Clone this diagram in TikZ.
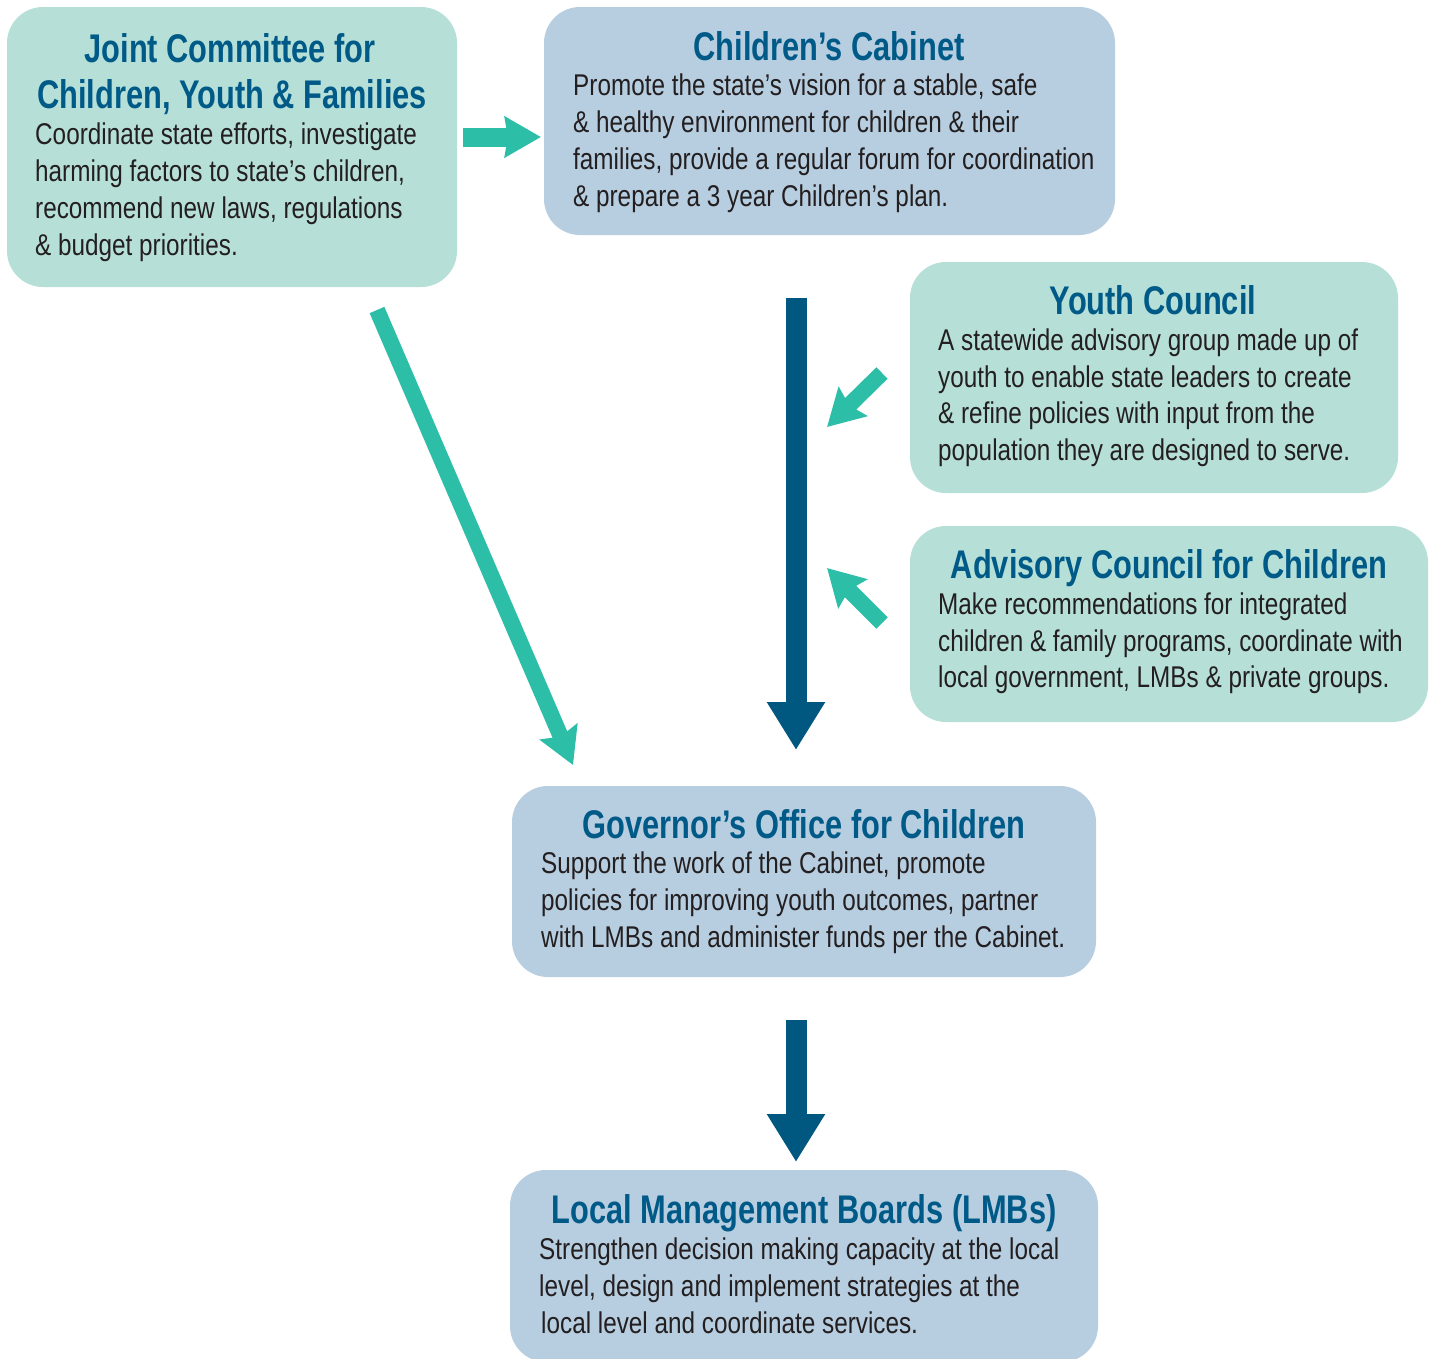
\documentclass[tikz,border=0pt]{standalone}
\usepackage{fontspec}
\setmainfont{Liberation Sans}[FakeStretch=0.81]
\newfontfamily\ttlfont{Liberation Sans}[FakeStretch=0.77]
\usetikzlibrary{arrows.meta}
\definecolor{tealbox}{RGB}{182,224,215}
\definecolor{bluebox}{RGB}{183,205,224}
\definecolor{titlecol}{RGB}{0,90,135}
\definecolor{tealarrow}{RGB}{45,190,168}
\definecolor{darkarrow}{RGB}{0,88,128}
\definecolor{txtcol}{RGB}{35,31,32}
\tikzset{
  boxbase/.style={rounded corners=36pt, inner sep=0pt, draw=none},
  tbox/.style={boxbase, fill=tealbox},
  bbox/.style={boxbase, fill=bluebox},
  ttl/.style={anchor=base, inner sep=0pt, text=titlecol, font=\ttlfont\fontsize{40}{46}\selectfont\bfseries},
  bodytxt/.style={anchor=base west, inner sep=0pt, text=txtcol, font=\fontsize{30}{36}\selectfont},
  tealarr/.style={draw=tealarrow, line width=16pt, -{Stealth[length=36pt, width=40pt, inset=5pt]}},
  tealarrh/.style={draw=tealarrow, line width=19pt, -{Stealth[length=36pt, width=40pt, inset=3pt]}},
  darkarr/.style={draw=darkarrow, line width=21pt, -{Triangle[length=48pt, width=55pt]}},
}
\begin{document}
\begin{tikzpicture}[x=1pt,y=-1pt]
\useasboundingbox (0,0) rectangle (1429,1358);
% boxes
\node[tbox, minimum width=450pt, minimum height=280pt] (jc) at (232,147) {};
\node[bbox, minimum width=571pt, minimum height=228pt] (cc) at (829.5,121) {};
\node[tbox, minimum width=488pt, minimum height=231pt] (yc) at (1154,377.5) {};
\node[tbox, minimum width=518pt, minimum height=196pt] (ac) at (1169,624) {};
\node[bbox, minimum width=584pt, minimum height=191pt] (go) at (804,881.5) {};
\node[bbox, minimum width=588pt, minimum height=192pt] (lmb) at (804,1266) {};
% Joint Committee
\node[ttl] (jct1) at (230,62) {Joint Committee for};
\node[ttl] (jct2) at (232,108) {Children, Youth \& Families};
\node[bodytxt] (jcb1) at (35,144) {Coordinate state efforts, investigate};
\node[bodytxt] (jcb2) at (35,181) {harming factors to state’s children,};
\node[bodytxt] (jcb3) at (35,218) {recommend new laws, regulations};
\node[bodytxt] (jcb4) at (35,255) {\& budget priorities.};
% Children's Cabinet
\node[ttl] (cct1) at (829,60) {Children’s Cabinet};
\node[bodytxt] (ccb1) at (573,95) {Promote the state’s vision for a stable, safe};
\node[bodytxt] (ccb2) at (573,132) {\& healthy environment for children \& their};
\node[bodytxt] (ccb3) at (573,169) {families, provide a regular forum for coordination};
\node[bodytxt] (ccb4) at (573,206) {\& prepare a 3 year Children’s plan.};
% Youth Council
\node[ttl] (yct1) at (1153,314) {Youth Council};
\node[bodytxt] (ycb1) at (938,350) {A statewide advisory group made up of};
\node[bodytxt] (ycb2) at (938,387) {youth to enable state leaders to create};
\node[bodytxt] (ycb3) at (938,423) {\& refine policies with input from the};
\node[bodytxt] (ycb4) at (938,460) {population they are designed to serve.};
% Advisory Council
\node[ttl] (act1) at (1169,578) {Advisory Council for Children};
\node[bodytxt] (acb1) at (938,614) {Make recommendations for integrated};
\node[bodytxt] (acb2) at (938,651) {children \& family programs, coordinate with};
\node[bodytxt] (acb3) at (938,687) {local government, LMBs \& private groups.};
% Governor's Office
\node[ttl] (got1) at (804,838) {Governor’s Office for Children};
\node[bodytxt] (gob1) at (541,873) {Support the work of the Cabinet, promote};
\node[bodytxt] (gob2) at (541,910) {policies for improving youth outcomes, partner};
\node[bodytxt] (gob3) at (541,947) {with LMBs and administer funds per the Cabinet.};
% LMBs
\node[ttl] (lmbt1) at (804,1223) {Local Management Boards (LMBs)};
\node[bodytxt] (lmbb1) at (539,1259) {Strengthen decision making capacity at the local};
\node[bodytxt] (lmbb2) at (539,1296) {level, design and implement strategies at the};
\node[bodytxt] (lmbb3) at (541,1333) {local level and coordinate services.};
% arrow end points
\coordinate (a1s) at (463,137);
\coordinate (a1e) at (541,137);
\coordinate (a2s) at (796,298);
\coordinate (a2e) at (796,750);
\coordinate (a3s) at (796,1020);
\coordinate (a3e) at (796,1162);
\coordinate (a4s) at (377,310);
\coordinate (a4e) at (573,765);
\coordinate (a5s) at (882,373);
\coordinate (a5e) at (827,427);
\coordinate (a6s) at (882,623);
\coordinate (a6e) at (827,568);
% arrows
\draw[tealarrh] (a1s) -- (a1e);
\draw[darkarr] (a2s) -- (a2e);
\draw[darkarr] (a3s) -- (a3e);
\draw[tealarr] (a4s) -- (a4e);
\draw[tealarr] (a5s) -- (a5e);
\draw[tealarr] (a6s) -- (a6e);
\end{tikzpicture}
\end{document}
